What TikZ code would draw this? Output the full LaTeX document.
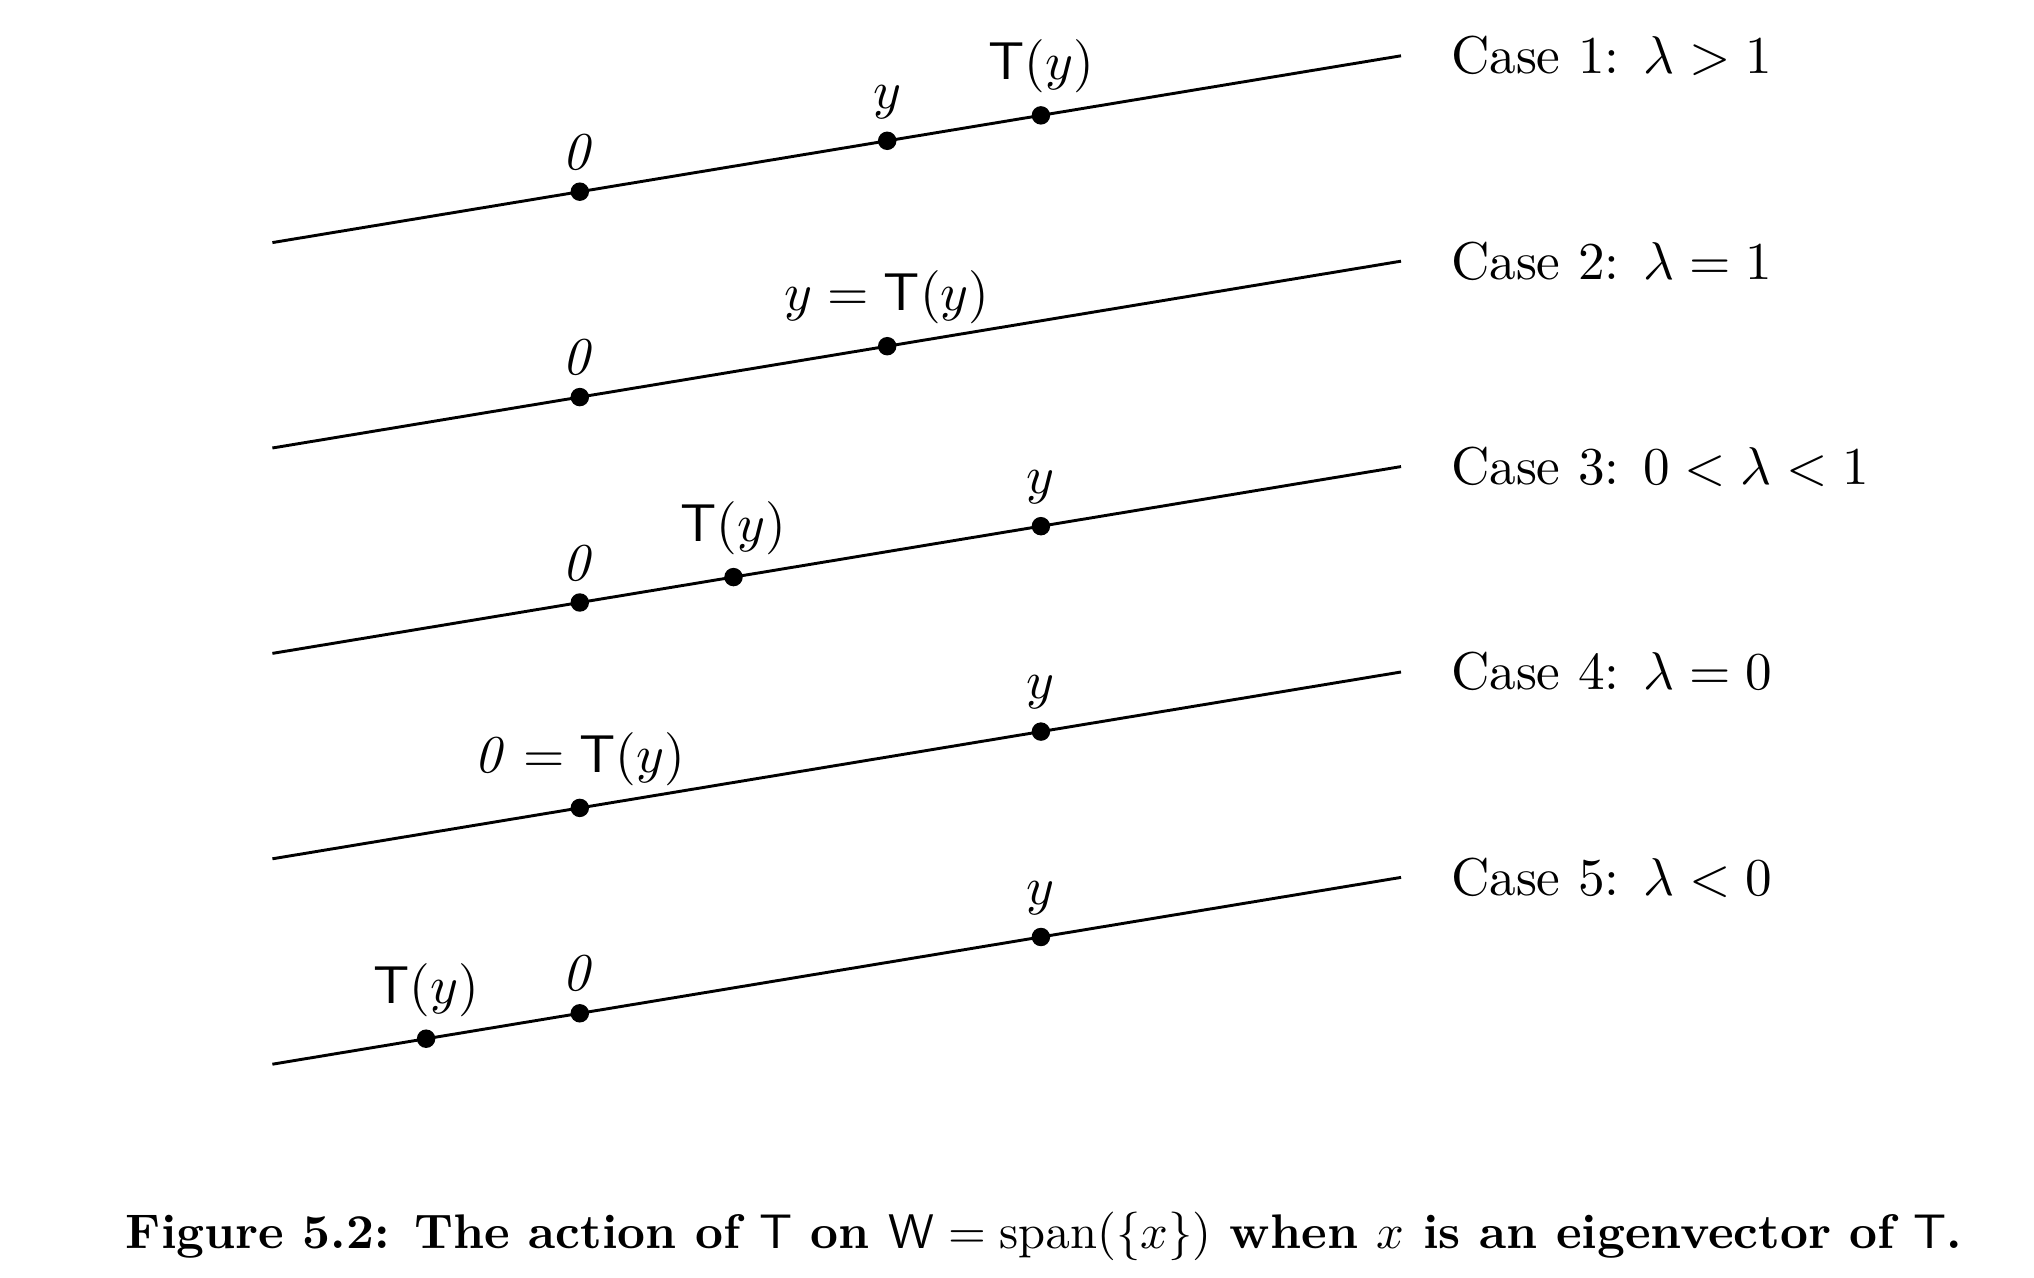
\documentclass[tikz,border=0pt]{standalone}
\usetikzlibrary{calc}
\begin{document}
\begin{tikzpicture}[x=0.2058pt, y=-0.2058pt,
  dot/.style={circle, fill=black, inner sep=0pt, minimum size=3.8pt},
  lab/.style={anchor=south, inner sep=2.3pt, font=\fontsize{10.95}{13.6}\selectfont},
  caselab/.style={anchor=base west, inner sep=0pt, font=\fontsize{10.95}{13.6}\selectfont},
  ln/.style={line width=0.6pt}]
\useasboundingbox (0,0) rectangle (2034,1278);
% Case 1
\coordinate (a1) at (272.4,242.6);
\coordinate (b1) at (1401,55.8);
\draw[ln] (a1) -- (b1);
\node[dot] (z1) at (579.8,191.7) {};
\node[dot] (y1) at (887.2,140.8) {};
\node[dot] (t1) at (1040.9,115.4) {};
\node[lab] (z1l) at (z1.north) {$\mathit{0}$};
\node[lab] (y1l) at (y1.north) {$y$};
\node[lab] (t1l) at (t1.north) {$\mathsf{T}(y)$};
\node[caselab] (c1) at ($(b1)+(49,18)$) {Case 1: $\lambda>1$};
% Case 2
\coordinate (a2) at (272.4,448.0);
\coordinate (b2) at (1401,261.2);
\draw[ln] (a2) -- (b2);
\node[dot] (z2) at (579.8,397.1) {};
\node[dot] (y2) at (887.2,346.2) {};
\node[lab] (z2l) at (z2.north) {$\mathit{0}$};
\node[lab] (y2l) at (y2.north) {$y=\mathsf{T}(y)$};
\node[caselab] (c2) at ($(b2)+(49,18)$) {Case 2: $\lambda=1$};
% Case 3
\coordinate (a3) at (272.4,653.4);
\coordinate (b3) at (1401,466.6);
\draw[ln] (a3) -- (b3);
\node[dot] (z3) at (579.8,602.5) {};
\node[dot] (t3) at (733.5,577.1) {};
\node[dot] (y3) at (1040.9,526.2) {};
\node[lab] (z3l) at (z3.north) {$\mathit{0}$};
\node[lab] (t3l) at (t3.north) {$\mathsf{T}(y)$};
\node[lab] (y3l) at (y3.north) {$y$};
\node[caselab] (c3) at ($(b3)+(49,18)$) {Case 3: $0<\lambda<1$};
% Case 4
\coordinate (a4) at (272.4,858.8);
\coordinate (b4) at (1401,672.0);
\draw[ln] (a4) -- (b4);
\node[dot] (z4) at (579.8,807.9) {};
\node[dot] (y4) at (1040.9,731.6) {};
\node[lab] (z4l) at (z4.north) {$\mathit{0}=\mathsf{T}(y)$};
\node[lab] (y4l) at (y4.north) {$y$};
\node[caselab] (c4) at ($(b4)+(49,18)$) {Case 4: $\lambda=0$};
% Case 5
\coordinate (a5) at (272.4,1064.2);
\coordinate (b5) at (1401,877.4);
\draw[ln] (a5) -- (b5);
\node[dot] (z5) at (579.8,1013.3) {};
\node[dot] (t5) at (426.1,1038.7) {};
\node[dot] (y5) at (1040.9,937.0) {};
\node[lab] (z5l) at (z5.north) {$\mathit{0}$};
\node[lab] (t5l) at (t5.north) {$\mathsf{T}(y)$};
\node[lab] (y5l) at (y5.north) {$y$};
\node[caselab] (c5) at ($(b5)+(49,18)$) {Case 5: $\lambda<0$};
% caption
\node[anchor=base, inner sep=0pt] (cap) at (1044,1248) {\textbf{Figure 5.2: The action of $\mathsf{T}$ on $\mathsf{W}=\mathrm{span}(\{x\})$ when $x$ is an eigenvector of $\mathsf{T}$.}};
\end{tikzpicture}
\end{document}
